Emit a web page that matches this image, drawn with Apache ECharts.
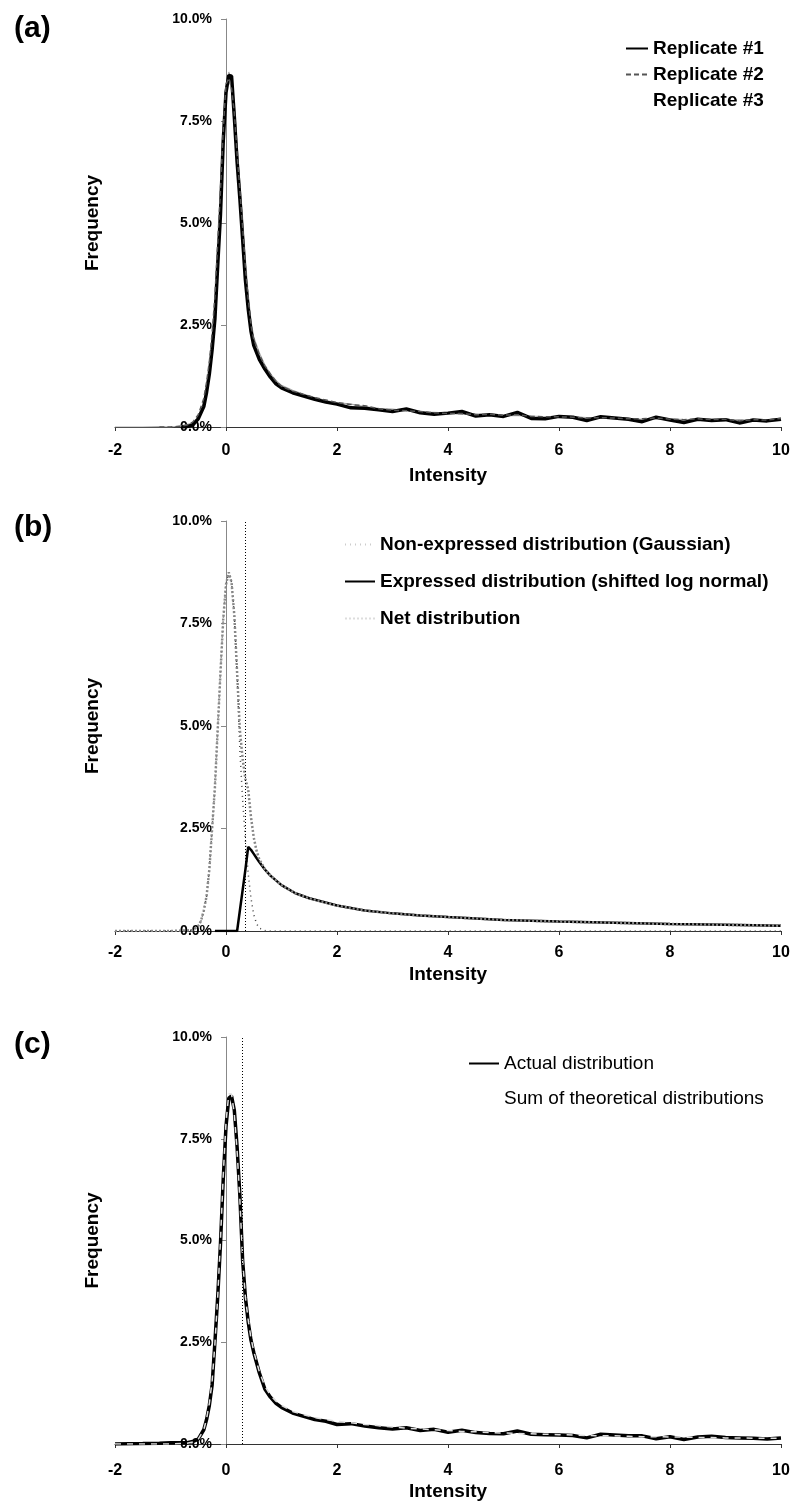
<!DOCTYPE html>
<html lang="en">
<head>
    <meta charset="UTF-8">
    <title>Intensity distributions</title>
    <script src="https://cdn.jsdelivr.net/npm/echarts@6/dist/echarts.min.js"></script>
    <style>
        html, body { margin: 0; padding: 0; background: #fff; }
        #main { width: 790px; height: 1502px; }
    </style>
</head>
<body>
<div id="main"></div>

<script type="text/javascript">
    // x grid shared by panels (a) and (c)
    var xFine = [-2, -1.5, -1.2, -1, -0.8, -0.7, -0.6, -0.5, -0.4, -0.35,
        -0.3, -0.25, -0.2, -0.15, -0.1, -0.05, 0, 0.05, 0.1, 0.15,
        0.2, 0.25, 0.3, 0.35, 0.4, 0.45, 0.5, 0.6, 0.7, 0.8,
        0.9, 1.0, 1.2, 1.4, 1.6, 1.8, 2.0, 2.25, 2.5, 2.75,
        3, 3.25, 3.5, 3.75, 4, 4.25, 4.5, 4.75, 5, 5.25,
        5.5, 5.75, 6, 6.25, 6.5, 6.75, 7, 7.25, 7.5, 7.75,
        8, 8.25, 8.5, 8.75, 9, 9.25, 9.5, 9.75, 10];

    // (a) replicates, frequency in %
    var rep1 = [null, null, null, null, 0, 0.01, 0.05, 0.2, 0.5, 0.85,
        1.3, 1.9, 2.65, 3.95, 5.2, 7.0, 8.2, 8.62, 8.6, 7.6,
        6.5, 5.6, 4.6, 3.6, 2.9, 2.35, 2.0, 1.66, 1.42, 1.22,
        1.06, 0.96, 0.84, 0.76, 0.68, 0.61, 0.56, 0.47, 0.46, 0.42,
        0.38, 0.44, 0.35, 0.31, 0.34, 0.38, 0.27, 0.3, 0.26, 0.36,
        0.21, 0.2, 0.26, 0.24, 0.16, 0.25, 0.22, 0.19, 0.13, 0.24,
        0.17, 0.11, 0.19, 0.16, 0.18, 0.1, 0.17, 0.15, 0.19];
    var rep2 = [null, null, 0, 0, 0.02, 0.05, 0.12, 0.3, 0.7, 1.1,
        1.6, 2.3, 3.2, 4.5, 5.8, 7.3, 8.4, 8.55, 8.3, 7.7,
        6.7, 5.8, 4.9, 3.9, 3.15, 2.5, 2.15, 1.78, 1.5, 1.3,
        1.12, 1.0, 0.88, 0.8, 0.72, 0.66, 0.6, 0.55, 0.52, 0.45,
        0.41, 0.4, 0.38, 0.35, 0.33, 0.33, 0.3, 0.31, 0.29, 0.3,
        0.26, 0.25, 0.25, 0.24, 0.22, 0.23, 0.22, 0.2, 0.2, 0.22,
        0.19, 0.18, 0.2, 0.18, 0.19, 0.15, 0.18, 0.17, 0.21];
    var rep3 = [0, 0, 0.01, 0, 0.03, 0.06, 0.1, 0.25, 0.6, 0.95,
        1.45, 2.1, 2.9, 4.2, 5.6, 7.1, 8.3, 8.7, 8.5, 7.9,
        6.9, 6.0, 5.1, 4.1, 3.25, 2.6, 2.2, 1.82, 1.52, 1.3,
        1.14, 1.02, 0.9, 0.8, 0.72, 0.65, 0.6, 0.56, 0.5, 0.46,
        0.44, 0.4, 0.36, 0.36, 0.34, 0.31, 0.32, 0.3, 0.28, 0.28,
        0.27, 0.25, 0.24, 0.25, 0.23, 0.21, 0.22, 0.21, 0.19, 0.2,
        0.2, 0.18, 0.17, 0.19, 0.17, 0.18, 0.16, 0.18, 0.2];

    // (b) fitted components
    var xB = [-2, -1.5, -1, -0.6, -0.5, -0.45, -0.4, -0.35, -0.3, -0.25,
        -0.2, -0.15, -0.1, -0.05, 0, 0.05, 0.1, 0.15, 0.2, 0.25,
        0.3, 0.35, 0.4, 0.45, 0.5, 0.55, 0.6, 0.7, 0.8, 1.0,
        1.25, 1.5, 2, 2.5, 3, 3.5, 4, 5, 6, 7,
        8, 9, 10];
    var gaussian = [0, 0, 0, 0.02, 0.12, 0.25, 0.5, 0.85, 1.5, 2.5,
        3.5, 4.9, 6.3, 7.6, 8.45, 8.75, 8.5, 7.7, 6.3, 4.4,
        3.2, 2.2, 1.4, 0.8, 0.4, 0.18, 0.07, 0.01, 0, 0,
        0, 0, 0, 0, 0, 0, 0, 0, 0, 0,
        0, 0, 0];
    var expressed = [null, null, null, null, null, null, null, null, null, null,
        0, 0, 0, 0, 0, 0, 0, 0, 0, 0.5,
        1.0, 1.5, 2.05, 1.98, 1.88, 1.78, 1.68, 1.5, 1.35, 1.12,
        0.92, 0.8, 0.62, 0.5, 0.43, 0.38, 0.34, 0.27, 0.23, 0.2,
        0.17, 0.15, 0.13];
    var net = [0, 0, 0, 0.02, 0.12, 0.25, 0.5, 0.85, 1.5, 2.5,
        3.5, 4.9, 6.3, 7.6, 8.45, 8.75, 8.5, 7.7, 6.3, 4.9,
        4.2, 3.7, 3.45, 2.78, 2.28, 1.96, 1.75, 1.51, 1.35, 1.12,
        0.92, 0.8, 0.62, 0.5, 0.43, 0.38, 0.34, 0.27, 0.23, 0.2,
        0.17, 0.15, 0.13];

    // (c) actual vs sum of fits
    var actual = [0, 0.01, 0.02, 0.03, 0.03, 0.03, 0.06, 0.12, 0.35, 0.6,
        0.95, 1.45, 2.5, 3.6, 4.9, 6.5, 7.8, 8.5, 8.55, 8.2,
        7.3, 6.1, 4.5, 3.6, 3.0, 2.55, 2.25, 1.75, 1.35, 1.15,
        1.0, 0.9, 0.76, 0.68, 0.6, 0.56, 0.48, 0.5, 0.44, 0.4,
        0.37, 0.4, 0.33, 0.36, 0.29, 0.34, 0.28, 0.26, 0.25, 0.32,
        0.24, 0.23, 0.22, 0.21, 0.15, 0.24, 0.22, 0.2, 0.2, 0.13,
        0.18, 0.11, 0.17, 0.19, 0.16, 0.15, 0.14, 0.12, 0.15];
    var sumTheory = [0, 0, 0, 0, 0.01, 0.02, 0.05, 0.12, 0.35, 0.62,
        1.0, 1.55, 2.45, 3.6, 5.0, 6.6, 7.9, 8.6, 8.6, 8.1,
        7.2, 6.0, 4.5, 3.6, 3.05, 2.6, 2.28, 1.78, 1.42, 1.2,
        1.05, 0.95, 0.8, 0.72, 0.65, 0.6, 0.56, 0.52, 0.48, 0.45,
        0.42, 0.39, 0.37, 0.35, 0.33, 0.31, 0.3, 0.28, 0.27, 0.26,
        0.25, 0.24, 0.23, 0.22, 0.21, 0.2, 0.2, 0.19, 0.18, 0.18,
        0.17, 0.17, 0.16, 0.16, 0.15, 0.15, 0.14, 0.14, 0.14];

    var cutoffB = 0.35;
    var cutoffC = 0.3;

    var FONT = "'Liberation Sans', Arial, sans-serif";

    function pairs(xs, ys) {
        return xs.map(function (x, i) { return [x, ys[i]]; });
    }

    // panel boxes (px); the y axis sits at intensity 0, 111px right of the grid edge
    var panels = [
        {top: 19, height: 408, label: '(a)', labelTop: 14, nameGap: 39, labelMargin: 16},
        {top: 521, height: 410, label: '(b)', labelTop: 513, nameGap: 34, labelMargin: 14},
        {top: 1037, height: 407, label: '(c)', labelTop: 1030, nameGap: 38, labelMargin: 19}
    ];

    var grids = [], xAxes = [], yAxes = [], titles = [];
    panels.forEach(function (p, i) {
        grids.push({left: 115, width: 666, top: p.top, height: p.height, outerBoundsMode: 'none'});
        titles.push({
            text: p.label, left: 14, top: p.labelTop, padding: 0,
            textStyle: {fontFamily: FONT, fontSize: 30, fontWeight: 'bold', color: '#000'}
        });
        xAxes.push({
            type: 'value', gridIndex: i, min: -2, max: 10, interval: 2,
            name: 'Intensity', nameLocation: 'middle', nameGap: p.nameGap,
            nameTextStyle: {fontFamily: FONT, fontSize: 19, fontWeight: 'bold', color: '#000'},
            axisLine: {onZero: true, lineStyle: {color: '#333', width: 1}},
            axisTick: {show: true, length: 4, lineStyle: {color: '#333'}},
            axisLabel: {fontFamily: FONT, fontSize: 16, fontWeight: 'bold', color: '#000', margin: p.labelMargin},
            splitLine: {show: false}
        });
        yAxes.push({
            type: 'value', gridIndex: i, min: 0, max: 10, interval: 2.5,
            offset: -111,
            name: 'Frequency', nameLocation: 'middle', nameGap: 124,
            nameTextStyle: {fontFamily: FONT, fontSize: 19, fontWeight: 'bold', color: '#000'},
            axisLine: {show: true, onZero: false, lineStyle: {color: '#888', width: 1}},
            axisTick: {show: true, length: 5, lineStyle: {color: '#888'}},
            axisLabel: {
                fontFamily: FONT, fontSize: 14, fontWeight: 'bold', color: '#000', margin: 14,
                formatter: function (v) { return v.toFixed(1) + '%'; }
            },
            splitLine: {show: false}
        });
    });

    function vline(x) {
        return {
            silent: true, symbol: 'none', animation: false,
            label: {show: false},
            lineStyle: {color: '#000', type: [1, 2], width: 1},
            data: [{xAxis: x}]
        };
    }

    var hidden = {opacity: 0};
    var noDot = {opacity: 0};
    var legendText = {fontFamily: FONT, fontSize: 19, color: '#000'};

    var option = {
        backgroundColor: '#fff',
        animation: false,
        title: titles,
        grid: grids,
        xAxis: xAxes,
        yAxis: yAxes,
        legend: [
            {
                orient: 'vertical', left: 625, top: 39, padding: 0,
                itemWidth: 22, itemHeight: 10, itemGap: 7, itemStyle: noDot,
                textStyle: Object.assign({fontWeight: 'bold'}, legendText),
                data: ['Replicate #1', 'Replicate #2',
                    {name: 'Replicate #3', itemStyle: hidden, lineStyle: hidden}]
            },
            {
                orient: 'vertical', left: 344, top: 535, padding: 0,
                itemWidth: 30, itemHeight: 10, itemGap: 18, itemStyle: noDot,
                textStyle: Object.assign({fontWeight: 'bold'}, legendText),
                data: [{name: 'Non-expressed distribution (Gaussian)', lineStyle: {color: '#ccc'}},
                    'Expressed distribution (shifted log normal)',
                    {name: 'Net distribution', lineStyle: {color: '#ddd'}}]
            },
            {
                orient: 'vertical', left: 468, top: 1054, padding: 0,
                itemWidth: 30, itemHeight: 10, itemGap: 16, itemStyle: noDot,
                textStyle: legendText,
                data: ['Actual distribution',
                    {name: 'Sum of theoretical distributions', itemStyle: hidden, lineStyle: hidden}]
            }
        ],
        series: [
            // (a)
            {
                name: 'Replicate #3', type: 'line', xAxisIndex: 0, yAxisIndex: 0, symbol: 'none',
                data: pairs(xFine, rep3), lineStyle: {color: '#aaa', width: 1.2}, itemStyle: {color: '#aaa'}
            },
            {
                name: 'Replicate #1', type: 'line', xAxisIndex: 0, yAxisIndex: 0, symbol: 'none',
                data: pairs(xFine, rep1), lineStyle: {color: '#000', width: 3.5}, itemStyle: {color: '#000'}
            },
            {
                name: 'Replicate #2', type: 'line', xAxisIndex: 0, yAxisIndex: 0, symbol: 'none',
                data: pairs(xFine, rep2), lineStyle: {color: '#555', width: 1.5, type: [5, 3]},
                itemStyle: {color: '#555'}
            },
            // (b)
            {
                name: 'Non-expressed distribution (Gaussian)', type: 'line', xAxisIndex: 1, yAxisIndex: 1,
                symbol: 'none', data: pairs(xB, gaussian),
                lineStyle: {color: '#444', width: 1.5, type: [1, 4]}, itemStyle: {color: '#444'}
            },
            {
                name: 'Expressed distribution (shifted log normal)', type: 'line', xAxisIndex: 1, yAxisIndex: 1,
                symbol: 'none', data: pairs(xB, expressed),
                lineStyle: {color: '#000', width: 2.5}, itemStyle: {color: '#000'},
                markLine: vline(cutoffB)
            },
            {
                name: 'Net distribution', type: 'line', xAxisIndex: 1, yAxisIndex: 1,
                symbol: 'none', data: pairs(xB, net),
                lineStyle: {color: '#888', width: 2.5, type: [2, 2]}, itemStyle: {color: '#888'}
            },
            // (c)
            {
                name: 'Actual distribution', type: 'line', xAxisIndex: 2, yAxisIndex: 2,
                symbol: 'none', data: pairs(xFine, actual),
                lineStyle: {color: '#000', width: 3.5}, itemStyle: {color: '#000'},
                markLine: vline(cutoffC)
            },
            {
                name: 'Sum of theoretical distributions', type: 'line', xAxisIndex: 2, yAxisIndex: 2,
                symbol: 'none', data: pairs(xFine, sumTheory),
                lineStyle: {color: '#ddd', width: 1.5, type: [6, 6]}, itemStyle: {color: '#ddd'}
            }
        ]
    };

    var myChart = echarts.init(document.getElementById('main'));
    myChart.setOption(option);
</script>

</body>
</html>
